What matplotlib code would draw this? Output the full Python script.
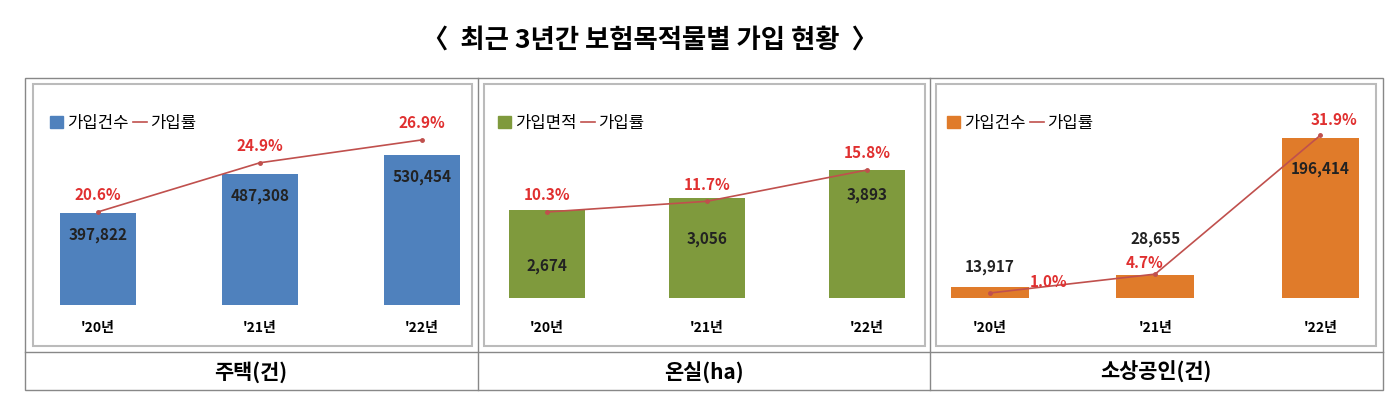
import matplotlib.pyplot as plt
from matplotlib.patches import Rectangle
from matplotlib.lines import Line2D
from matplotlib.patches import Patch

plt.rcParams["font.family"] = ["Noto Sans CJK JP", "Noto Sans CJK KR", "DejaVu Sans"]

# ---------- Daten ----------
years = ["'20년", "'21년", "'22년"]
house_cnt = [397822, 487308, 530454]
house_rate = [20.6, 24.9, 26.9]
green_area = [2674, 3056, 3893]
green_rate = [10.3, 11.7, 15.8]
shop_cnt = [13917, 28655, 196414]
shop_rate = [1.0, 4.7, 31.9]

W, H = 1400, 400
fig = plt.figure(figsize=(14, 4), dpi=100)


def ax_at(x0, x1, ybot, ytop):
    return fig.add_axes([x0 / W, 1 - ybot / H, (x1 - x0) / W, (ybot - ytop) / H])


panels = [
    (35, 475, 305, (-0.39, 2.33), (187440, 656500), (12.44, 30.4), "#4F81BD",
     house_cnt, house_rate, "가입건수"),
    (483, 923, 298, (-0.4, 2.35), (0, 6022), (-0.96, 24.96), "#7F9A3D",
     green_area, green_rate, "가입면적"),
    (932, 1370, 298, (-0.35, 2.3), (0, 243062), (0.02, 38.8), "#E07B2A",
     shop_cnt, shop_rate, "가입건수"),
]

val_off = [[-16, -16, -16], [-40, -30, -18], [14, 26, -22]]
rate_off = [[12, 12, 12], [12, 12, 12], [8, 8, 11]]
rate_dx = [[0, 0, 0], [0, 0, 0], [42, -8, 10]]

for i, (x0, x1, yb, xl, yl, tl, col, vals, rates, name) in enumerate(panels):
    ax = ax_at(x0, x1, yb, 100)
    x = range(3)
    ax.bar(x, vals, width=0.47, color=col)
    ax.set_xlim(*xl)
    ax.set_ylim(*yl)
    ax.axis("off")
    for j, v in enumerate(vals):
        ax.annotate(f"{v:,}", (j, v), xytext=(0, val_off[i][j]),
                    textcoords="offset points", ha="center", va="center",
                    fontsize=11, fontweight="bold", color="#222222")
    tx = ax.twinx()
    tx.plot(x, rates, color="#C0504D", lw=1.2, marker="o", ms=2.5)
    tx.set_ylim(*tl)
    tx.axis("off")
    for j, r in enumerate(rates):
        tx.annotate(f"{r}%", (j, r), xytext=(rate_dx[i][j], rate_off[i][j]),
                    textcoords="offset points", ha="center", va="center",
                    fontsize=11, fontweight="bold", color="#E03030")
    for j, y in enumerate(years):
        fig.text((x0 + (j - xl[0]) / (xl[1] - xl[0]) * (x1 - x0)) / W, 1 - 328 / H, y,
                 ha="center", va="center", fontsize=10, fontweight="bold")
    handles = [Patch(color=col), Line2D([], [], color="#C0504D", lw=1.2)]
    ax.legend(handles, [name, "가입률"], loc="upper left", bbox_to_anchor=(0.0, 1.0),
              ncol=2, frameon=False, fontsize=12, handlelength=0.8,
              handletextpad=0.2, columnspacing=0.3)

# ---------- Rahmen ----------
def line(xa, ya, xb, yb, c="#888888", lw=1):
    fig.add_artist(Line2D([xa / W, xb / W], [1 - ya / H, 1 - yb / H], color=c, lw=lw))


fig.add_artist(Rectangle((25 / W, 1 - 390 / H), 1358 / W, 312 / H, fill=False,
                         ec="#888888", lw=1))
line(25, 352, 1383, 352)
line(478, 78, 478, 390)
line(930, 78, 930, 390)
for a, b in [(33, 472), (484, 925), (936, 1376)]:
    fig.add_artist(Rectangle((a / W, 1 - 346 / H), (b - a) / W, 262 / H, fill=False,
                             ec="#bbbbbb", lw=1.5))

for cx, t in [(251, "주택(건)"), (704, "온실(ha)"), (1156, "소상공인(건)")]:
    fig.text(cx / W, 1 - 372 / H, t, ha="center", va="center", fontsize=15,
             fontweight="bold")

fig.text(650 / W, 1 - 40 / H, "〈  최근 3년간 보험목적물별 가입 현황  〉", ha="center",
         va="center", fontsize=19, fontweight="bold")

fig.savefig("out.png", dpi=100, facecolor="white")
